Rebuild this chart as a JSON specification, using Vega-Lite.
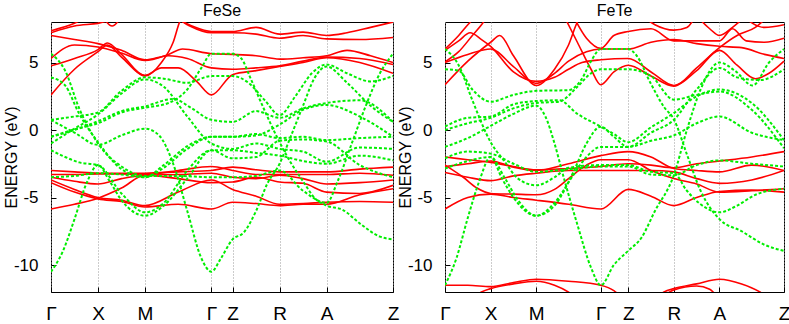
{
"$schema":"https://vega.github.io/schema/vega-lite/v6.json",
"padding":{"left":2,"top":2,"right":0,"bottom":0},
"bounds":"flush",
"spacing":52,
"config":{"font":"Liberation Sans","view":{"stroke":"#000","strokeWidth":1},
"axis":{"labelColor":"#000","titleColor":"#000","tickColor":"#000","domainColor":"#000","labelFontWeight":"normal","titleFontWeight":"normal"},
"title":{"fontSize":16,"fontWeight":"normal","color":"#000","offset":3,"anchor":"middle"}},
"data":{"values":[
{"b":"aR1","x":0,"e":2.6},{"b":"aR1","x":0.5,"e":4.5},{"b":"aR1","x":1,"e":5.8},{"b":"aR1","x":1.2,"e":6.3},{"b":"aR1","x":1.5,"e":5.4},{"b":"aR1","x":2,"e":4.05},{"b":"aR1","x":2.35,"e":4.6},{"b":"aR1","x":2.707,"e":4.6},{"b":"aR1","x":3.1,"e":3.6},{"b":"aR1","x":3.414,"e":2.6},{"b":"aR1","x":3.864,"e":4.1},{"b":"aR1","x":4.364,"e":4.4},{"b":"aR1","x":4.864,"e":4.7},{"b":"aR1","x":5.364,"e":5.0},{"b":"aR1","x":5.864,"e":5.35},{"b":"aR1","x":6.571,"e":5.0},{"b":"aR1","x":7.278,"e":4.2},
{"b":"aR2","x":0,"e":4.75},{"b":"aR2","x":0.5,"e":5.3},{"b":"aR2","x":1,"e":5.95},{"b":"aR2","x":1.2,"e":6.45},{"b":"aR2","x":1.5,"e":5.6},{"b":"aR2","x":2,"e":4.0},{"b":"aR2","x":2.35,"e":5.0},{"b":"aR2","x":2.6,"e":6.5},{"b":"aR2","x":2.75,"e":8.1},{"b":"aR2","x":2.9,"e":8.6},
{"b":"aR3","x":0,"e":5.3},{"b":"aR3","x":0.5,"e":6.3},{"b":"aR3","x":1,"e":6.15},{"b":"aR3","x":1.5,"e":5.7},{"b":"aR3","x":2,"e":5.15},{"b":"aR3","x":2.5,"e":5.6},{"b":"aR3","x":2.8,"e":6.0},{"b":"aR3","x":3.414,"e":5.65},{"b":"aR3","x":3.864,"e":5.6},{"b":"aR3","x":4.364,"e":5.5},{"b":"aR3","x":4.864,"e":5.25},{"b":"aR3","x":5.364,"e":5.35},{"b":"aR3","x":5.864,"e":5.5},{"b":"aR3","x":6.3,"e":5.9},{"b":"aR3","x":6.8,"e":5.5},{"b":"aR3","x":7.278,"e":5.0},
{"b":"aR4","x":0,"e":7.0},{"b":"aR4","x":0.5,"e":6.7},{"b":"aR4","x":1,"e":6.4},{"b":"aR4","x":1.5,"e":5.9},{"b":"aR4","x":2,"e":5.2},{"b":"aR4","x":2.5,"e":5.5},{"b":"aR4","x":2.9,"e":5.3},{"b":"aR4","x":3.414,"e":4.6},{"b":"aR4","x":3.864,"e":4.5},{"b":"aR4","x":4.364,"e":4.6},{"b":"aR4","x":4.864,"e":4.75},{"b":"aR4","x":5.364,"e":5.1},{"b":"aR4","x":5.864,"e":5.4},{"b":"aR4","x":6.571,"e":5.3},{"b":"aR4","x":7.278,"e":4.85},
{"b":"aR5","x":0,"e":7.2},{"b":"aR5","x":0.5,"e":7.7},{"b":"aR5","x":1,"e":7.9},{"b":"aR5","x":1.6,"e":8.4},{"b":"aR5","x":2.6,"e":8.4},{"b":"aR5","x":2.9,"e":7.8},{"b":"aR5","x":3.414,"e":7.2},{"b":"aR5","x":3.864,"e":7.2},{"b":"aR5","x":4.364,"e":7.1},{"b":"aR5","x":4.864,"e":6.8},{"b":"aR5","x":5.364,"e":7.0},{"b":"aR5","x":5.864,"e":6.75},{"b":"aR5","x":6.571,"e":6.7},{"b":"aR5","x":7.278,"e":6.85},
{"b":"aR6","x":0,"e":7.35},{"b":"aR6","x":0.5,"e":7.9},{"b":"aR6","x":0.8,"e":8.4},{"b":"aR6","x":2.3,"e":8.4},{"b":"aR6","x":2.75,"e":8.1},{"b":"aR6","x":3.0,"e":7.7},{"b":"aR6","x":3.414,"e":7.3},{"b":"aR6","x":3.864,"e":7.3},{"b":"aR6","x":4.364,"e":7.6},{"b":"aR6","x":4.864,"e":7.1},{"b":"aR6","x":5.364,"e":7.25},{"b":"aR6","x":5.864,"e":7.0},{"b":"aR6","x":6.3,"e":7.2},{"b":"aR6","x":6.8,"e":7.6},{"b":"aR6","x":7.278,"e":8.0},
{"b":"aR7","x":1.1,"e":8.4},{"b":"aR7","x":1.3,"e":7.7},{"b":"aR7","x":1.5,"e":8.4},
{"b":"aR9","x":0,"e":-3.0},{"b":"aR9","x":0.5,"e":-3.1},{"b":"aR9","x":1,"e":-3.2},{"b":"aR9","x":1.5,"e":-3.2},{"b":"aR9","x":2,"e":-3.2},{"b":"aR9","x":2.707,"e":-3.1},{"b":"aR9","x":3.414,"e":-3.0},{"b":"aR9","x":3.864,"e":-2.75},{"b":"aR9","x":4.364,"e":-2.95},{"b":"aR9","x":4.864,"e":-3.1},{"b":"aR9","x":5.364,"e":-3.1},{"b":"aR9","x":5.864,"e":-3.1},{"b":"aR9","x":6.571,"e":-2.9},{"b":"aR9","x":7.278,"e":-2.75},
{"b":"aR10","x":0,"e":-3.5},{"b":"aR10","x":0.5,"e":-3.8},{"b":"aR10","x":1,"e":-4.0},{"b":"aR10","x":1.5,"e":-3.6},{"b":"aR10","x":2,"e":-3.35},{"b":"aR10","x":2.707,"e":-3.3},{"b":"aR10","x":3.414,"e":-3.2},{"b":"aR10","x":3.864,"e":-3.5},{"b":"aR10","x":4.364,"e":-3.6},{"b":"aR10","x":4.864,"e":-3.35},{"b":"aR10","x":5.364,"e":-3.6},{"b":"aR10","x":5.864,"e":-4.0},{"b":"aR10","x":6.571,"e":-3.9},{"b":"aR10","x":7.278,"e":-3.7},
{"b":"aR11","x":0,"e":-3.7},{"b":"aR11","x":0.5,"e":-4.4},{"b":"aR11","x":1,"e":-5.0},{"b":"aR11","x":1.5,"e":-5.2},{"b":"aR11","x":2,"e":-5.6},{"b":"aR11","x":2.707,"e":-4.6},{"b":"aR11","x":3.414,"e":-3.7},{"b":"aR11","x":3.864,"e":-4.4},{"b":"aR11","x":4.364,"e":-4.9},{"b":"aR11","x":4.864,"e":-5.5},{"b":"aR11","x":5.364,"e":-5.45},{"b":"aR11","x":5.864,"e":-5.35},{"b":"aR11","x":6.571,"e":-5.3},{"b":"aR11","x":7.278,"e":-5.35},
{"b":"aR12","x":0,"e":-3.9},{"b":"aR12","x":0.5,"e":-4.6},{"b":"aR12","x":1,"e":-5.1},{"b":"aR12","x":1.5,"e":-5.3},{"b":"aR12","x":2,"e":-5.7},{"b":"aR12","x":2.707,"e":-5.5},{"b":"aR12","x":3.414,"e":-5.85},{"b":"aR12","x":3.864,"e":-5.35},{"b":"aR12","x":4.364,"e":-5.45},{"b":"aR12","x":4.864,"e":-5.6},{"b":"aR12","x":5.364,"e":-5.5},{"b":"aR12","x":5.864,"e":-5.5},{"b":"aR12","x":6.571,"e":-4.8},{"b":"aR12","x":7.278,"e":-4.35},
{"b":"aR13","x":0,"e":-5.85},{"b":"aR13","x":0.5,"e":-5.5},{"b":"aR13","x":1,"e":-5.05},{"b":"aR13","x":1.5,"e":-4.3},{"b":"aR13","x":2,"e":-3.35},{"b":"aR13","x":2.707,"e":-3.6},{"b":"aR13","x":3.414,"e":-3.9},{"b":"aR13","x":3.864,"e":-3.85},{"b":"aR13","x":4.364,"e":-3.5},{"b":"aR13","x":4.864,"e":-3.85},{"b":"aR13","x":5.364,"e":-3.95},{"b":"aR13","x":5.864,"e":-4.6},{"b":"aR13","x":6.571,"e":-4.7},{"b":"aR13","x":7.278,"e":-4.1},
{"b":"aR14","x":0,"e":-3.3},{"b":"aR14","x":0.5,"e":-3.3},{"b":"aR14","x":1,"e":-3.25},{"b":"aR14","x":1.5,"e":-3.25},{"b":"aR14","x":2,"e":-3.3},{"b":"aR14","x":2.707,"e":-3.0},{"b":"aR14","x":3.414,"e":-2.7},{"b":"aR14","x":3.864,"e":-3.0},{"b":"aR14","x":4.364,"e":-3.3},{"b":"aR14","x":4.864,"e":-3.3},{"b":"aR14","x":5.364,"e":-3.3},{"b":"aR14","x":5.864,"e":-3.3},{"b":"aR14","x":6.571,"e":-3.2},{"b":"aR14","x":7.278,"e":-3.35},
{"b":"aG1","x":0,"e":5.65},{"b":"aG1","x":0.3,"e":4.4},{"b":"aG1","x":0.6,"e":1.6},{"b":"aG1","x":1,"e":-1.0},{"b":"aG1","x":1.5,"e":-2.7},{"b":"aG1","x":2,"e":-3.4},{"b":"aG1","x":2.707,"e":-3.4},{"b":"aG1","x":3.414,"e":-3.5},{"b":"aG1","x":3.864,"e":-3.5},{"b":"aG1","x":4.364,"e":-3.4},{"b":"aG1","x":4.864,"e":-3.0},{"b":"aG1","x":5.364,"e":-4.5},{"b":"aG1","x":5.864,"e":-5.4},{"b":"aG1","x":6.1,"e":-3.8},{"b":"aG1","x":6.4,"e":-1.0},{"b":"aG1","x":6.7,"e":1.8},{"b":"aG1","x":7.0,"e":4.2},{"b":"aG1","x":7.278,"e":5.65},
{"b":"aG2","x":0,"e":3.9},{"b":"aG2","x":0.3,"e":3.3},{"b":"aG2","x":0.6,"e":1.2},{"b":"aG2","x":1,"e":-0.9},{"b":"aG2","x":1.5,"e":-2.9},{"b":"aG2","x":2,"e":-3.5},{"b":"aG2","x":2.4,"e":-2.8},{"b":"aG2","x":2.9,"e":-1.4},{"b":"aG2","x":3.414,"e":-0.5},{"b":"aG2","x":3.864,"e":-0.5},{"b":"aG2","x":4.364,"e":-0.3},{"b":"aG2","x":4.864,"e":-0.6},{"b":"aG2","x":5.364,"e":-0.5},{"b":"aG2","x":5.864,"e":-0.75},{"b":"aG2","x":6.571,"e":-0.6},{"b":"aG2","x":7.278,"e":-0.5},
{"b":"aG3","x":0,"e":0.75},{"b":"aG3","x":0.5,"e":1.0},{"b":"aG3","x":1,"e":1.3},{"b":"aG3","x":1.5,"e":2.9},{"b":"aG3","x":2,"e":3.9},{"b":"aG3","x":2.4,"e":3.8},{"b":"aG3","x":2.9,"e":3.5},{"b":"aG3","x":3.414,"e":4.0},{"b":"aG3","x":3.864,"e":4.0},{"b":"aG3","x":4.2,"e":3.5},{"b":"aG3","x":4.55,"e":2.2},{"b":"aG3","x":4.864,"e":1.1},{"b":"aG3","x":5.2,"e":2.5},{"b":"aG3","x":5.55,"e":4.2},{"b":"aG3","x":5.864,"e":4.85},{"b":"aG3","x":6.3,"e":4.2},{"b":"aG3","x":6.8,"e":3.6},{"b":"aG3","x":7.278,"e":4.0},
{"b":"aG4","x":0,"e":-1.0},{"b":"aG4","x":0.5,"e":0.1},{"b":"aG4","x":1,"e":1.15},{"b":"aG4","x":1.5,"e":2.7},{"b":"aG4","x":2,"e":3.75},{"b":"aG4","x":2.4,"e":3.2},{"b":"aG4","x":2.9,"e":1.0},{"b":"aG4","x":3.414,"e":-1.0},{"b":"aG4","x":3.864,"e":-1.4},{"b":"aG4","x":4.364,"e":-1.0},{"b":"aG4","x":4.864,"e":-1.4},{"b":"aG4","x":5.364,"e":-1.6},{"b":"aG4","x":5.864,"e":-2.35},{"b":"aG4","x":6.571,"e":-1.3},{"b":"aG4","x":7.278,"e":-1.4},
{"b":"aG5","x":0,"e":0.75},{"b":"aG5","x":0.5,"e":-0.2},{"b":"aG5","x":1,"e":-1.1},{"b":"aG5","x":1.5,"e":-0.4},{"b":"aG5","x":2,"e":0.1},{"b":"aG5","x":2.3,"e":-0.4},{"b":"aG5","x":2.6,"e":-2.5},{"b":"aG5","x":2.9,"e":-6.0},{"b":"aG5","x":3.2,"e":-9.5},{"b":"aG5","x":3.414,"e":-10.5},{"b":"aG5","x":3.6,"e":-9.6},{"b":"aG5","x":3.864,"e":-8.1},{"b":"aG5","x":4.1,"e":-7.6},{"b":"aG5","x":4.364,"e":-6.0},{"b":"aG5","x":4.6,"e":-4.0},{"b":"aG5","x":4.864,"e":-2.5},{"b":"aG5","x":5.1,"e":-0.5},{"b":"aG5","x":5.364,"e":1.8},{"b":"aG5","x":5.6,"e":3.8},{"b":"aG5","x":5.864,"e":4.7},{"b":"aG5","x":6.3,"e":3.5},{"b":"aG5","x":6.8,"e":1.8},{"b":"aG5","x":7.278,"e":0.6},
{"b":"aG6","x":0,"e":-0.5},{"b":"aG6","x":0.5,"e":0.0},{"b":"aG6","x":1,"e":0.65},{"b":"aG6","x":1.5,"e":1.4},{"b":"aG6","x":2,"e":1.75},{"b":"aG6","x":2.6,"e":2.3},{"b":"aG6","x":3.0,"e":1.6},{"b":"aG6","x":3.414,"e":0.75},{"b":"aG6","x":3.864,"e":0.6},{"b":"aG6","x":4.364,"e":1.4},{"b":"aG6","x":4.864,"e":0.9},{"b":"aG6","x":5.364,"e":1.6},{"b":"aG6","x":5.864,"e":2.0},{"b":"aG6","x":6.571,"e":2.2},{"b":"aG6","x":7.278,"e":0.6},
{"b":"aG7","x":0,"e":-0.5},{"b":"aG7","x":0.5,"e":0.05},{"b":"aG7","x":1,"e":0.5},{"b":"aG7","x":1.5,"e":1.3},{"b":"aG7","x":2,"e":1.65},{"b":"aG7","x":2.5,"e":2.0},{"b":"aG7","x":2.9,"e":3.0},{"b":"aG7","x":3.2,"e":4.6},{"b":"aG7","x":3.414,"e":5.65},{"b":"aG7","x":3.864,"e":5.65},{"b":"aG7","x":4.05,"e":5.3},{"b":"aG7","x":4.25,"e":3.8},{"b":"aG7","x":4.5,"e":1.8},{"b":"aG7","x":4.864,"e":-0.9},{"b":"aG7","x":5.1,"e":-2.4},{"b":"aG7","x":5.364,"e":-3.8},{"b":"aG7","x":5.6,"e":-5.0},{"b":"aG7","x":5.864,"e":-5.6},{"b":"aG7","x":6.2,"e":-5.9},{"b":"aG7","x":6.6,"e":-7.0},{"b":"aG7","x":7.0,"e":-7.9},{"b":"aG7","x":7.278,"e":-8.1},
{"b":"aG8","x":0,"e":-1.5},{"b":"aG8","x":0.3,"e":-2.0},{"b":"aG8","x":0.6,"e":-2.4},{"b":"aG8","x":1,"e":-2.6},{"b":"aG8","x":1.5,"e":-4.7},{"b":"aG8","x":2,"e":-6.1},{"b":"aG8","x":2.4,"e":-5.4},{"b":"aG8","x":2.9,"e":-3.0},{"b":"aG8","x":3.414,"e":-1.5},{"b":"aG8","x":3.864,"e":-1.5},{"b":"aG8","x":4.364,"e":-1.7},{"b":"aG8","x":4.864,"e":-1.9},{"b":"aG8","x":5.364,"e":-2.3},{"b":"aG8","x":5.864,"e":-2.5},{"b":"aG8","x":6.571,"e":-1.9},{"b":"aG8","x":7.278,"e":-2.25},
{"b":"aG9","x":0,"e":-10.5},{"b":"aG9","x":0.25,"e":-9.0},{"b":"aG9","x":0.5,"e":-6.6},{"b":"aG9","x":0.75,"e":-4.0},{"b":"aG9","x":1,"e":-2.6},{"b":"aG9","x":1.25,"e":-3.8},{"b":"aG9","x":1.5,"e":-5.2},{"b":"aG9","x":2,"e":-6.35},{"b":"aG9","x":2.4,"e":-5.6},{"b":"aG9","x":2.9,"e":-3.6},{"b":"aG9","x":3.414,"e":-1.5},{"b":"aG9","x":3.864,"e":-2.1},{"b":"aG9","x":4.364,"e":-2.0},{"b":"aG9","x":4.864,"e":-0.8},{"b":"aG9","x":5.364,"e":-0.7},{"b":"aG9","x":5.864,"e":-0.85},{"b":"aG9","x":6.571,"e":-2.6},{"b":"aG9","x":7.278,"e":-3.5},
{"b":"aG10","x":0,"e":-3.5},{"b":"aG10","x":0.5,"e":-3.4},{"b":"aG10","x":1,"e":-3.2},{"b":"aG10","x":1.5,"e":-3.3},{"b":"aG10","x":2,"e":-3.5},{"b":"aG10","x":2.4,"e":-2.6},{"b":"aG10","x":2.9,"e":-1.2},{"b":"aG10","x":3.414,"e":-0.5},{"b":"aG10","x":3.864,"e":-0.5},{"b":"aG10","x":4.364,"e":-0.4},{"b":"aG10","x":4.864,"e":0.4},{"b":"aG10","x":5.364,"e":1.5},{"b":"aG10","x":5.864,"e":1.85},{"b":"aG10","x":6.571,"e":1.0},{"b":"aG10","x":7.278,"e":-0.5},
{"b":"bR1","x":0,"e":3.35},{"b":"bR1","x":0.5,"e":5.1},{"b":"bR1","x":1,"e":6.5},{"b":"bR1","x":1.2,"e":7.0},{"b":"bR1","x":1.5,"e":5.5},{"b":"bR1","x":2,"e":3.3},{"b":"bR1","x":2.4,"e":4.5},{"b":"bR1","x":2.707,"e":6.3},{"b":"bR1","x":2.9,"e":8.0},{"b":"bR1","x":3.0,"e":8.6},
{"b":"bR2","x":0,"e":5.0},{"b":"bR2","x":0.5,"e":5.6},{"b":"bR2","x":1,"e":6.0},{"b":"bR2","x":1.5,"e":4.7},{"b":"bR2","x":2,"e":3.45},{"b":"bR2","x":2.4,"e":4.2},{"b":"bR2","x":2.707,"e":5.1},{"b":"bR2","x":3.1,"e":5.8},{"b":"bR2","x":3.414,"e":6.0},{"b":"bR2","x":4.014,"e":6.0},{"b":"bR2","x":4.514,"e":6.5},{"b":"bR2","x":5.014,"e":6.7},{"b":"bR2","x":5.514,"e":6.4},{"b":"bR2","x":6.014,"e":6.2},{"b":"bR2","x":6.5,"e":6.1},{"b":"bR2","x":7.0,"e":5.6},{"b":"bR2","x":7.428,"e":5.3},
{"b":"bR3","x":0,"e":5.05},{"b":"bR3","x":0.3,"e":5.8},{"b":"bR3","x":0.6,"e":7.0},{"b":"bR3","x":0.8,"e":7.8},{"b":"bR3","x":0.95,"e":8.5},
{"b":"bR4","x":0,"e":5.9},{"b":"bR4","x":0.3,"e":6.6},{"b":"bR4","x":0.55,"e":7.2},{"b":"bR4","x":0.8,"e":6.7},{"b":"bR4","x":1,"e":6.2},{"b":"bR4","x":1.5,"e":4.3},{"b":"bR4","x":2,"e":3.6},{"b":"bR4","x":2.4,"e":3.9},{"b":"bR4","x":2.707,"e":4.5},{"b":"bR4","x":3.0,"e":5.0},{"b":"bR4","x":3.414,"e":5.2},{"b":"bR4","x":4.014,"e":5.3},{"b":"bR4","x":4.514,"e":4.3},{"b":"bR4","x":5.014,"e":3.3},{"b":"bR4","x":5.514,"e":4.4},{"b":"bR4","x":6.014,"e":5.9},{"b":"bR4","x":6.4,"e":4.8},{"b":"bR4","x":6.8,"e":3.8},{"b":"bR4","x":7.1,"e":4.2},{"b":"bR4","x":7.428,"e":5.1},
{"b":"bR5","x":0,"e":6.0},{"b":"bR5","x":0.3,"e":7.0},{"b":"bR5","x":0.5,"e":7.8},{"b":"bR5","x":0.7,"e":8.5},
{"b":"bR6","x":2.6,"e":8.5},{"b":"bR6","x":2.9,"e":6.5},{"b":"bR6","x":3.2,"e":4.5},{"b":"bR6","x":3.414,"e":3.35},{"b":"bR6","x":3.7,"e":4.3},{"b":"bR6","x":4.014,"e":4.8},{"b":"bR6","x":4.514,"e":4.0},{"b":"bR6","x":5.014,"e":3.25},{"b":"bR6","x":5.514,"e":4.6},{"b":"bR6","x":6.014,"e":6.1},{"b":"bR6","x":6.4,"e":7.0},{"b":"bR6","x":6.8,"e":7.6},{"b":"bR6","x":7.1,"e":8.5},
{"b":"bR7","x":2.8,"e":8.5},{"b":"bR7","x":3.1,"e":6.8},{"b":"bR7","x":3.414,"e":6.05},{"b":"bR7","x":3.7,"e":7.0},{"b":"bR7","x":4.014,"e":7.3},{"b":"bR7","x":4.514,"e":7.5},{"b":"bR7","x":5.014,"e":6.6},{"b":"bR7","x":5.514,"e":6.6},{"b":"bR7","x":6.014,"e":6.6},{"b":"bR7","x":6.3,"e":7.5},{"b":"bR7","x":6.6,"e":6.6},{"b":"bR7","x":7.0,"e":6.5},{"b":"bR7","x":7.428,"e":6.8},
{"b":"bR8","x":5.5,"e":8.5},{"b":"bR8","x":5.8,"e":7.5},{"b":"bR8","x":6.014,"e":7.0},{"b":"bR8","x":6.3,"e":7.6},{"b":"bR8","x":6.6,"e":8.5},
{"b":"bR9","x":4.3,"e":8.5},{"b":"bR9","x":4.6,"e":7.8},{"b":"bR9","x":5.014,"e":7.4},{"b":"bR9","x":5.3,"e":7.6},{"b":"bR9","x":5.5,"e":8.5},
{"b":"bR10","x":6.5,"e":8.5},{"b":"bR10","x":7.0,"e":7.6},{"b":"bR10","x":7.428,"e":7.8},
{"b":"bR12","x":0,"e":-11.5},{"b":"bR12","x":0.5,"e":-11.5},{"b":"bR12","x":1,"e":-11.6},{"b":"bR12","x":1.5,"e":-11.3},{"b":"bR12","x":2,"e":-11.05},{"b":"bR12","x":2.707,"e":-11.2},{"b":"bR12","x":3.414,"e":-11.5},{"b":"bR12","x":3.7,"e":-11.9},{"b":"bR12","x":3.9,"e":-12.5},
{"b":"bR13","x":0.6,"e":-12.5},{"b":"bR13","x":0.8,"e":-12.0},{"b":"bR13","x":1,"e":-11.75},{"b":"bR13","x":1.5,"e":-11.4},{"b":"bR13","x":2,"e":-11.2},{"b":"bR13","x":2.4,"e":-11.5},{"b":"bR13","x":2.7,"e":-12.0},{"b":"bR13","x":2.9,"e":-12.5},
{"b":"bR14","x":4.6,"e":-12.5},{"b":"bR14","x":4.8,"e":-12.0},{"b":"bR14","x":5.014,"e":-11.75},{"b":"bR14","x":5.514,"e":-11.4},{"b":"bR14","x":6.014,"e":-11.05},{"b":"bR14","x":6.5,"e":-11.4},{"b":"bR14","x":6.9,"e":-12.0},{"b":"bR14","x":7.1,"e":-12.5},
{"b":"bR15","x":4.7,"e":-12.5},{"b":"bR15","x":5.014,"e":-11.85},{"b":"bR15","x":5.514,"e":-11.55},{"b":"bR15","x":5.8,"e":-11.8},{"b":"bR15","x":6.0,"e":-12.5},
{"b":"bR16","x":0,"e":-2.0},{"b":"bR16","x":0.5,"e":-2.2},{"b":"bR16","x":1,"e":-2.4},{"b":"bR16","x":1.5,"e":-2.7},{"b":"bR16","x":2,"e":-2.95},{"b":"bR16","x":2.707,"e":-2.85},{"b":"bR16","x":3.414,"e":-2.7},{"b":"bR16","x":4.014,"e":-2.5},{"b":"bR16","x":4.514,"e":-2.6},{"b":"bR16","x":5.014,"e":-2.8},{"b":"bR16","x":5.514,"e":-2.5},{"b":"bR16","x":6.014,"e":-2.3},{"b":"bR16","x":6.721,"e":-2.0},{"b":"bR16","x":7.428,"e":-1.6},
{"b":"bR17","x":0,"e":-2.7},{"b":"bR17","x":0.5,"e":-2.5},{"b":"bR17","x":1,"e":-2.3},{"b":"bR17","x":1.5,"e":-2.75},{"b":"bR17","x":2,"e":-3.0},{"b":"bR17","x":2.707,"e":-2.5},{"b":"bR17","x":3.414,"e":-1.9},{"b":"bR17","x":4.014,"e":-1.6},{"b":"bR17","x":4.514,"e":-2.0},{"b":"bR17","x":5.014,"e":-2.85},{"b":"bR17","x":5.514,"e":-3.0},{"b":"bR17","x":6.014,"e":-3.1},{"b":"bR17","x":6.721,"e":-2.6},{"b":"bR17","x":7.428,"e":-3.0},
{"b":"bR18","x":0,"e":-3.15},{"b":"bR18","x":0.5,"e":-3.5},{"b":"bR18","x":1,"e":-3.75},{"b":"bR18","x":1.5,"e":-3.4},{"b":"bR18","x":2,"e":-3.2},{"b":"bR18","x":2.707,"e":-3.0},{"b":"bR18","x":3.414,"e":-3.0},{"b":"bR18","x":4.014,"e":-3.0},{"b":"bR18","x":4.514,"e":-3.0},{"b":"bR18","x":5.014,"e":-3.1},{"b":"bR18","x":5.514,"e":-3.6},{"b":"bR18","x":6.014,"e":-3.95},{"b":"bR18","x":6.721,"e":-3.7},{"b":"bR18","x":7.428,"e":-3.0},
{"b":"bR19","x":0,"e":-2.6},{"b":"bR19","x":0.4,"e":-3.5},{"b":"bR19","x":0.7,"e":-4.3},{"b":"bR19","x":1,"e":-4.7},{"b":"bR19","x":1.5,"e":-4.75},{"b":"bR19","x":2,"e":-4.8},{"b":"bR19","x":2.4,"e":-4.4},{"b":"bR19","x":2.707,"e":-3.6},{"b":"bR19","x":3.1,"e":-2.6},{"b":"bR19","x":3.414,"e":-2.2},{"b":"bR19","x":4.014,"e":-2.2},{"b":"bR19","x":4.514,"e":-3.0},{"b":"bR19","x":5.014,"e":-3.6},{"b":"bR19","x":5.514,"e":-4.0},{"b":"bR19","x":6.014,"e":-4.6},{"b":"bR19","x":6.721,"e":-4.5},{"b":"bR19","x":7.428,"e":-4.35},
{"b":"bR20","x":0,"e":-5.85},{"b":"bR20","x":0.5,"e":-5.0},{"b":"bR20","x":1,"e":-4.75},{"b":"bR20","x":1.5,"e":-5.0},{"b":"bR20","x":2,"e":-5.2},{"b":"bR20","x":2.707,"e":-5.5},{"b":"bR20","x":3.414,"e":-5.85},{"b":"bR20","x":4.014,"e":-4.4},{"b":"bR20","x":4.514,"e":-4.9},{"b":"bR20","x":5.014,"e":-5.6},{"b":"bR20","x":5.514,"e":-5.0},{"b":"bR20","x":6.014,"e":-4.55},{"b":"bR20","x":6.721,"e":-4.45},{"b":"bR20","x":7.428,"e":-4.6},
{"b":"bG1","x":0,"e":6.0},{"b":"bG1","x":0.3,"e":4.8},{"b":"bG1","x":0.6,"e":2.2},{"b":"bG1","x":1,"e":-0.9},{"b":"bG1","x":1.3,"e":-2.3},{"b":"bG1","x":1.6,"e":-3.6},{"b":"bG1","x":2,"e":-4.1},{"b":"bG1","x":2.4,"e":-3.5},{"b":"bG1","x":2.707,"e":-2.8},{"b":"bG1","x":3.414,"e":-2.6},{"b":"bG1","x":4.014,"e":-2.6},{"b":"bG1","x":4.514,"e":-3.1},{"b":"bG1","x":5.014,"e":-3.2},{"b":"bG1","x":5.3,"e":-4.5},{"b":"bG1","x":5.6,"e":-5.5},{"b":"bG1","x":6.014,"e":-6.1},{"b":"bG1","x":6.4,"e":-5.6},{"b":"bG1","x":6.8,"e":-4.8},{"b":"bG1","x":7.428,"e":-4.35},
{"b":"bG2","x":0,"e":4.5},{"b":"bG2","x":0.3,"e":4.4},{"b":"bG2","x":0.6,"e":3.0},{"b":"bG2","x":1,"e":2.1},{"b":"bG2","x":1.5,"e":2.6},{"b":"bG2","x":2,"e":2.9},{"b":"bG2","x":2.707,"e":2.95},{"b":"bG2","x":3.0,"e":3.8},{"b":"bG2","x":3.2,"e":5.1},{"b":"bG2","x":3.414,"e":6.0},{"b":"bG2","x":4.014,"e":6.0},{"b":"bG2","x":4.2,"e":5.5},{"b":"bG2","x":4.5,"e":3.5},{"b":"bG2","x":4.8,"e":1.7},{"b":"bG2","x":5.014,"e":0.8},{"b":"bG2","x":5.3,"e":-1.8},{"b":"bG2","x":5.6,"e":-4.5},{"b":"bG2","x":6.014,"e":-6.6},{"b":"bG2","x":6.5,"e":-7.5},{"b":"bG2","x":7.0,"e":-8.5},{"b":"bG2","x":7.428,"e":-8.95},
{"b":"bG3","x":0,"e":-11.5},{"b":"bG3","x":0.25,"e":-9.5},{"b":"bG3","x":0.5,"e":-6.5},{"b":"bG3","x":0.75,"e":-3.8},{"b":"bG3","x":1,"e":-2.0},{"b":"bG3","x":1.25,"e":-3.6},{"b":"bG3","x":1.5,"e":-5.0},{"b":"bG3","x":2,"e":-6.35},{"b":"bG3","x":2.4,"e":-5.4},{"b":"bG3","x":2.8,"e":-3.4},{"b":"bG3","x":3.1,"e":-2.0},{"b":"bG3","x":3.414,"e":-1.25},{"b":"bG3","x":4.014,"e":-1.25},{"b":"bG3","x":4.514,"e":-0.8},{"b":"bG3","x":5.014,"e":-0.4},{"b":"bG3","x":5.514,"e":0.5},{"b":"bG3","x":6.014,"e":1.0},{"b":"bG3","x":6.721,"e":-0.2},{"b":"bG3","x":7.428,"e":-0.75},
{"b":"bG4","x":0,"e":-1.25},{"b":"bG4","x":0.5,"e":-0.6},{"b":"bG4","x":1,"e":0.3},{"b":"bG4","x":1.5,"e":1.2},{"b":"bG4","x":2,"e":1.8},{"b":"bG4","x":2.2,"e":1.0},{"b":"bG4","x":2.4,"e":-1.0},{"b":"bG4","x":2.6,"e":-3.5},{"b":"bG4","x":2.9,"e":-7.0},{"b":"bG4","x":3.2,"e":-10.2},{"b":"bG4","x":3.414,"e":-11.5},{"b":"bG4","x":3.7,"e":-10.0},{"b":"bG4","x":4.014,"e":-8.95},{"b":"bG4","x":4.3,"e":-8.0},{"b":"bG4","x":4.6,"e":-6.0},{"b":"bG4","x":5.014,"e":-3.35},{"b":"bG4","x":5.3,"e":0.0},{"b":"bG4","x":5.6,"e":3.0},{"b":"bG4","x":6.014,"e":5.0},{"b":"bG4","x":6.35,"e":4.4},{"b":"bG4","x":6.74,"e":3.3},{"b":"bG4","x":7.1,"e":5.0},{"b":"bG4","x":7.428,"e":6.0},
{"b":"bG5","x":0,"e":0.25},{"b":"bG5","x":0.5,"e":0.9},{"b":"bG5","x":1,"e":1.0},{"b":"bG5","x":1.5,"e":1.9},{"b":"bG5","x":2,"e":2.15},{"b":"bG5","x":2.5,"e":2.2},{"b":"bG5","x":2.9,"e":1.2},{"b":"bG5","x":3.414,"e":0.25},{"b":"bG5","x":3.7,"e":-0.3},{"b":"bG5","x":4.014,"e":-0.9},{"b":"bG5","x":4.514,"e":0.2},{"b":"bG5","x":5.014,"e":1.25},{"b":"bG5","x":5.514,"e":2.5},{"b":"bG5","x":6.014,"e":3.0},{"b":"bG5","x":6.721,"e":2.0},{"b":"bG5","x":7.428,"e":-0.75},
{"b":"bG6","x":0,"e":0.0},{"b":"bG6","x":0.5,"e":0.5},{"b":"bG6","x":1,"e":0.9},{"b":"bG6","x":1.5,"e":1.6},{"b":"bG6","x":2,"e":2.0},{"b":"bG6","x":2.5,"e":2.1},{"b":"bG6","x":2.9,"e":3.2},{"b":"bG6","x":3.2,"e":4.2},{"b":"bG6","x":3.414,"e":4.5},{"b":"bG6","x":4.014,"e":4.5},{"b":"bG6","x":4.514,"e":4.0},{"b":"bG6","x":5.014,"e":2.25},{"b":"bG6","x":5.514,"e":2.6},{"b":"bG6","x":6.014,"e":2.85},{"b":"bG6","x":6.721,"e":1.5},{"b":"bG6","x":7.428,"e":-1.35},
{"b":"bG7","x":0,"e":-2.1},{"b":"bG7","x":0.5,"e":-1.6},{"b":"bG7","x":1,"e":-1.75},{"b":"bG7","x":1.5,"e":-2.5},{"b":"bG7","x":2,"e":-3.1},{"b":"bG7","x":2.707,"e":-2.9},{"b":"bG7","x":3.414,"e":-2.7},{"b":"bG7","x":4.014,"e":-2.7},{"b":"bG7","x":4.514,"e":-3.3},{"b":"bG7","x":5.014,"e":-3.35},{"b":"bG7","x":5.514,"e":-2.6},{"b":"bG7","x":6.014,"e":-2.25},{"b":"bG7","x":6.721,"e":-2.5},{"b":"bG7","x":7.428,"e":-2.7},
{"b":"bG8","x":0,"e":-2.85},{"b":"bG8","x":0.5,"e":-2.3},{"b":"bG8","x":1,"e":-2.0},{"b":"bG8","x":1.3,"e":-3.5},{"b":"bG8","x":1.6,"e":-5.2},{"b":"bG8","x":2,"e":-6.35},{"b":"bG8","x":2.4,"e":-5.6},{"b":"bG8","x":2.8,"e":-3.2},{"b":"bG8","x":3.1,"e":-1.0},{"b":"bG8","x":3.414,"e":0.25},{"b":"bG8","x":3.7,"e":-0.5},{"b":"bG8","x":4.014,"e":-1.25},{"b":"bG8","x":4.514,"e":-0.2},{"b":"bG8","x":5.014,"e":0.75},{"b":"bG8","x":5.514,"e":3.0},{"b":"bG8","x":6.014,"e":4.6},{"b":"bG8","x":6.4,"e":3.9},{"b":"bG8","x":6.9,"e":3.7},{"b":"bG8","x":7.428,"e":4.5}
]},
"hconcat":[
{"title":"FeSe","width":342,"height":270,
"encoding":{
"x":{"field":"x","type":"quantitative","scale":{"domain":[0,7.278],"nice":false,"zero":false},
"axis":{"values":[0,1,2,3.414,3.864,4.864,5.864,7.278],"labelExpr":"datum.value < 0.5 ? 'Γ' : datum.value < 1.5 ? 'X' : datum.value < 2.5 ? 'M' : datum.value < 3.6 ? 'Γ' : datum.value < 4.5 ? 'Z' : datum.value < 5.5 ? 'R' : datum.value < 6.5 ? 'A' : 'Z'","title":null,"grid":true,"gridColor":"#999999","gridDash":[1,2],"gridWidth":1,"tickSize":-5,"labelPadding":17,"labelFontSize":19,"domain":false,"labelFlush":false}},
"y":{"field":"e","type":"quantitative","scale":{"domain":[-12,8],"nice":false,"zero":false},
"axis":{"values":[-10,-5,0,5],"labelExpr":"'' + datum.value","title":"ENERGY (eV)","grid":false,"tickSize":-5,"labelPadding":18,"labelFontSize":17,"titleFontSize":16,"titlePadding":2,"minExtent":30,"maxExtent":30,"domain":false}},
"detail":{"field":"b"}},
"layer":[
{"transform":[{"filter":"substring(datum.b,0,2)=='aR'"}],"mark":{"type":"line","interpolate":"monotone","clip":true,"color":"#ff0000","strokeWidth":1.6}},
{"transform":[{"filter":"substring(datum.b,0,2)=='aG'"}],"mark":{"type":"line","interpolate":"monotone","clip":true,"color":"#00ee00","strokeWidth":2,"strokeDash":[3,2]}}
]},
{"title":"FeTe","width":339,"height":270,
"encoding":{
"x":{"field":"x","type":"quantitative","scale":{"domain":[0,7.428],"nice":false,"zero":false},
"axis":{"values":[0,1,2,3.414,4.014,5.014,6.014,7.428],"labelExpr":"datum.value < 0.5 ? 'Γ' : datum.value < 1.5 ? 'X' : datum.value < 2.5 ? 'M' : datum.value < 3.7 ? 'Γ' : datum.value < 4.5 ? 'Z' : datum.value < 5.5 ? 'R' : datum.value < 6.5 ? 'A' : 'Z'","title":null,"grid":true,"gridColor":"#999999","gridDash":[1,2],"gridWidth":1,"tickSize":-5,"labelPadding":17,"labelFontSize":19,"domain":false,"labelFlush":false}},
"y":{"field":"e","type":"quantitative","scale":{"domain":[-12,8],"nice":false,"zero":false},
"axis":{"values":[-10,-5,0,5],"labelExpr":"'' + datum.value","title":"ENERGY (eV)","grid":false,"tickSize":-5,"labelPadding":18,"labelFontSize":17,"titleFontSize":16,"titlePadding":2,"minExtent":30,"maxExtent":30,"domain":false}},
"detail":{"field":"b"}},
"layer":[
{"transform":[{"filter":"substring(datum.b,0,2)=='bR'"}],"mark":{"type":"line","interpolate":"monotone","clip":true,"color":"#ff0000","strokeWidth":1.6}},
{"transform":[{"filter":"substring(datum.b,0,2)=='bG'"}],"mark":{"type":"line","interpolate":"monotone","clip":true,"color":"#00ee00","strokeWidth":2,"strokeDash":[3,2]}}
]}
]
}
